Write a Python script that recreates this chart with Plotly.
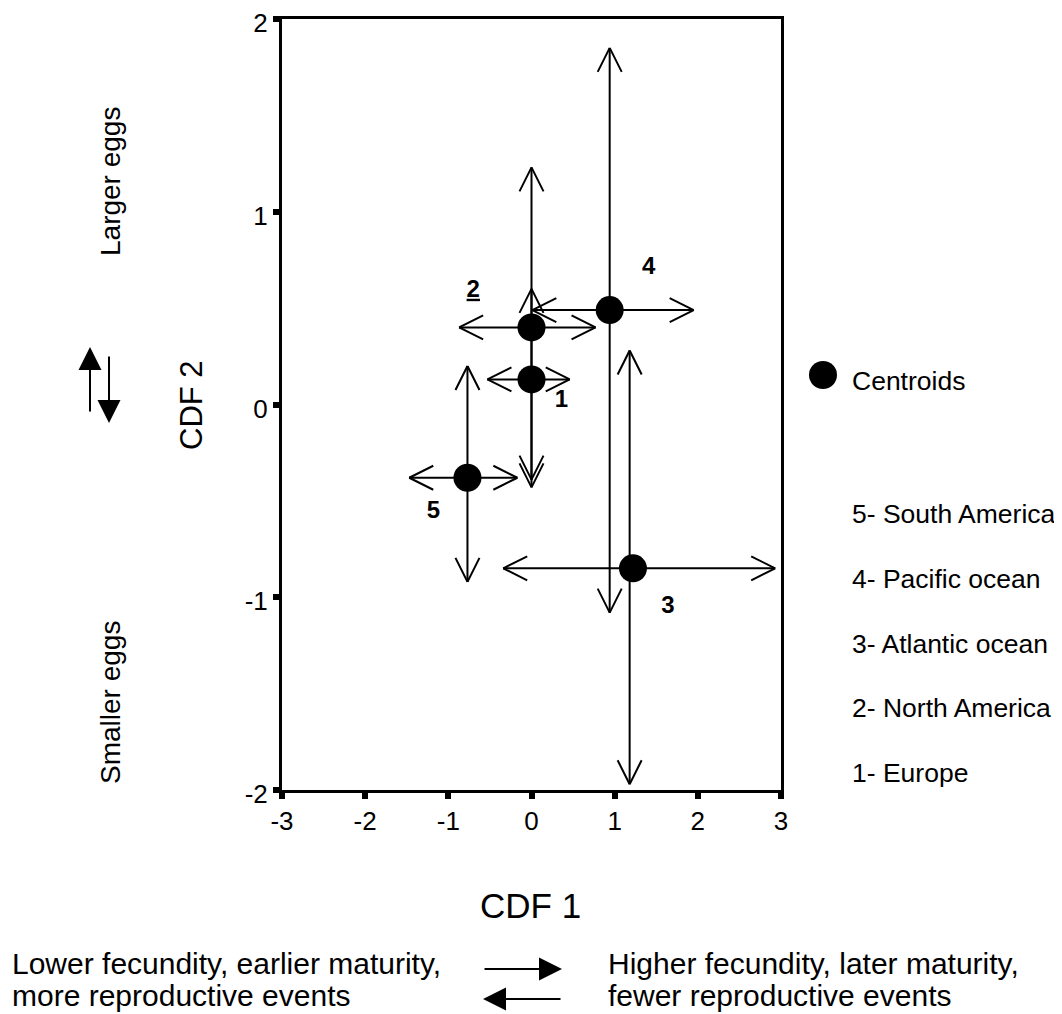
import plotly.graph_objects as go

# ---------------- data ----------------
regions = ["Europe", "North America", "Atlantic ocean", "Pacific ocean", "South America"]
region_ids = ["1", "2", "3", "4", "5"]
centroid_x = [0.00, 0.00, 1.22, 0.94, -0.77]
centroid_y = [0.13, 0.40, -0.85, 0.49, -0.38]
# extent of the horizontal (CDF 1) arrows
h_low = [-0.53, -0.87, -0.34, 0.01, -1.47]
h_high = [0.46, 0.77, 2.93, 1.95, -0.17]
# extent and position of the vertical (CDF 2) arrows
v_x = [0.00, 0.00, 1.18, 0.94, -0.77]
v_low = [-0.39, -0.43, -1.97, -1.08, -0.92]
v_high = [0.60, 1.23, 0.28, 1.85, 0.20]
# number label positions
label_x = [0.36, -0.70, 1.64, 1.41, -1.18]
label_y = [0.02, 0.59, -1.05, 0.71, -0.56]
label_text = ["1", "<u>2</u>", "3", "4", "5"]

x_ticks = [-3, -2, -1, 0, 1, 2, 3]
y_ticks = [-2, -1, 0, 1, 2]
x_range = [-3, 3]
y_range = [-2, 2]

# ---------------- layout geometry ----------------
OFF = 8  # page body margin
W, H = 1062 - OFF, 1014 - OFF
ML, MT = 282 - OFF, 19 - OFF
PW, PH = 499, 771
MR, MB = W - ML - PW, H - MT - PH
sx = (x_range[1] - x_range[0]) / PW   # data units per pixel
sy = (y_range[1] - y_range[0]) / PH

HEAD_L, HEAD_W = 24, 12  # arrow head length / half width in px
FONT = "Liberation Sans, Arial, sans-serif"

lx, ly = [], []

def add_arrow(x0, y0, x1, y1):
    lx.extend([x0, x1, None]); ly.extend([y0, y1, None])
    dxp, dyp = (x1 - x0) / sx, (y1 - y0) / sy
    n = (dxp ** 2 + dyp ** 2) ** 0.5
    ux, uy = dxp / n, dyp / n
    px, py = -uy, ux
    for s in (1, -1):
        bx = x1 + (-ux * HEAD_L + s * px * HEAD_W) * sx
        by = y1 + (-uy * HEAD_L + s * py * HEAD_W) * sy
        lx.extend([bx, x1, None]); ly.extend([by, y1, None])

for i in range(len(regions)):
    cx, cy = centroid_x[i], centroid_y[i]
    add_arrow(cx, cy, h_high[i], cy)
    add_arrow(cx, cy, h_low[i], cy)
    add_arrow(v_x[i], cy, v_x[i], v_high[i])
    add_arrow(v_x[i], cy, v_x[i], v_low[i])

fig = go.Figure()
fig.add_trace(go.Scatter(x=lx, y=ly, mode="lines", line=dict(color="black", width=2),
                         hoverinfo="skip", showlegend=False, cliponaxis=False))
fig.add_trace(go.Scatter(x=centroid_x, y=centroid_y, mode="markers", name="Centroids",
                         marker=dict(color="black", size=28), text=regions,
                         showlegend=False, cliponaxis=False))
fig.add_trace(go.Scatter(x=label_x, y=label_y, mode="text", text=[f"<b>{t}</b>" for t in label_text],
                         textfont=dict(family=FONT, size=24, color="black"),
                         showlegend=False, hoverinfo="skip", cliponaxis=False))

def px2paper(x, y):
    # screen pixel -> paper coords
    fx, fy = x - OFF, y - OFF
    return (fx - ML) / PW, (H - MB - fy) / PH

annotations = []
def text_at(x, y, txt, size, angle=0, xanchor="center", yanchor="middle"):
    px_, py_ = px2paper(x, y)
    annotations.append(dict(x=px_, y=py_, xref="paper", yref="paper", text=txt, showarrow=False,
                            textangle=angle, xanchor=xanchor, yanchor=yanchor, align="left",
                            font=dict(family=FONT, size=size, color="black")))

def fill_arrow(x0, y0, x1, y1):
    tx, ty = px2paper(x1, y1)
    annotations.append(dict(x=tx, y=ty, xref="paper", yref="paper", ax=x0 - x1, ay=y0 - y1,
                            text="", showarrow=True, arrowhead=2, arrowsize=2.3,
                            arrowwidth=2, arrowcolor="black"))

# axis titles
text_at(530, 906, "CDF 1", 35)
text_at(191, 405, "CDF 2", 31, angle=-90)
# left side descriptions
text_at(110, 182, "Larger eggs", 28, angle=-90)
text_at(110, 703, "Smaller eggs", 28, angle=-90)
fill_arrow(90, 413, 90, 347)
fill_arrow(109, 355, 109, 423)
# bottom descriptions
text_at(10, 963, "Lower fecundity, earlier maturity,", 30, xanchor="left")
text_at(10, 995, "more reproductive events", 30, xanchor="left")
text_at(606, 963, "Higher fecundity, later maturity,", 30, xanchor="left")
text_at(606, 995, "fewer reproductive events", 30, xanchor="left")
fill_arrow(483, 969, 562, 969)
fill_arrow(562, 999, 483, 999)
# legend
text_at(850, 381, "Centroids", 26.5, xanchor="left")
legend_rows_y = [773, 708, 644, 579, 514]
for i in range(len(regions)):
    text_at(850, legend_rows_y[i], f"{region_ids[i]}- {regions[i]}", 26.5, xanchor="left")

lcx, lcy = px2paper(823, 375)
shapes = [dict(type="circle", xref="paper", yref="paper", xsizemode="pixel", ysizemode="pixel",
               xanchor=lcx, yanchor=lcy, x0=-14, x1=14, y0=-14, y1=14,
               fillcolor="black", line=dict(color="black", width=0))]

fig.update_layout(
    width=W, height=H, margin=dict(l=ML, r=MR, t=MT, b=MB, autoexpand=False),
    paper_bgcolor="white", plot_bgcolor="white",
    font=dict(family=FONT, color="black"),
    annotations=annotations, shapes=shapes, showlegend=False,
)
axis_common = dict(showgrid=False, zeroline=False, showline=True, linecolor="black", linewidth=3,
                   mirror=True, ticks="outside", tickcolor="black", tickwidth=6, ticklen=6,
                   ticklabeloverflow="allow", automargin=False,
                   tickfont=dict(family=FONT, size=26, color="black"))
fig.update_xaxes(range=x_range, tickvals=x_ticks, ticktext=[str(v) for v in x_ticks], **axis_common)
fig.update_yaxes(range=y_range, tickvals=y_ticks, ticktext=[str(v) for v in y_ticks],
                 ticklabelshift=4, **axis_common)

fig.write_html("out.html")
